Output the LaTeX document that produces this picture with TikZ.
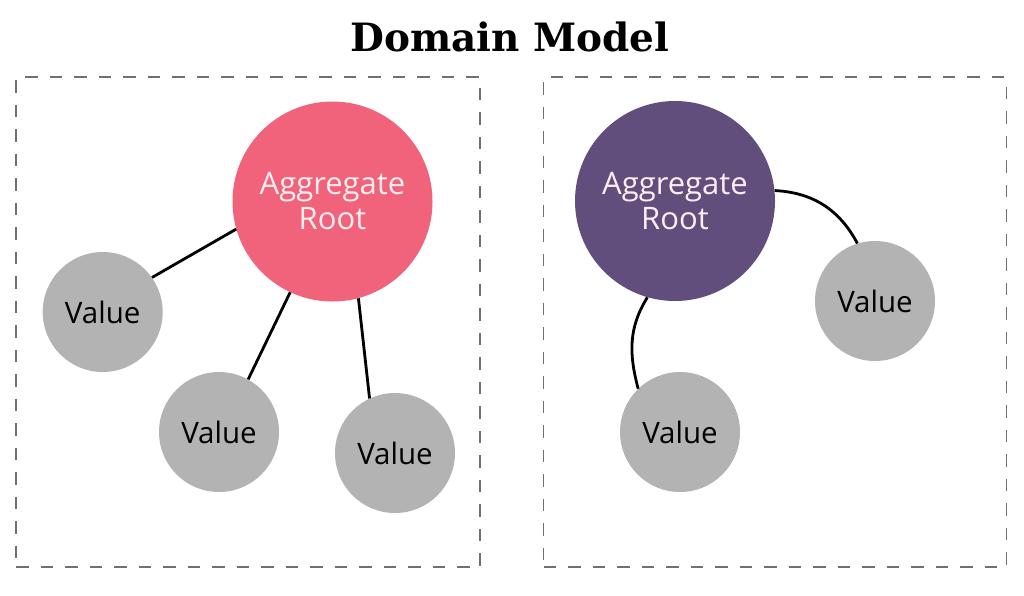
\documentclass[tikz,border=0pt]{standalone}
\usepackage{fontspec}
\setmainfont{Open Sans}
\newfontfamily\titlefont{DejaVu Serif}
\definecolor{rootpink}{HTML}{F0637A}
\definecolor{rootpurple}{HTML}{614E7D}
\definecolor{valgray}{HTML}{B3B3B3}
\definecolor{boxgray}{HTML}{707070}
\definecolor{roottext}{HTML}{FCEEF0}
\begin{document}
\begin{tikzpicture}[x=1pt,y=-1pt,
  frame/.style={draw=boxgray,line width=1.2pt,dash pattern=on 12.5pt off 12pt},
  rootnode/.style={circle,minimum size=200pt,inner sep=0pt,text=roottext,align=center,
    font=\fontsize{31}{35}\selectfont},
  valnode/.style={circle,fill=valgray,minimum size=120pt,inner sep=0pt,
    font=\fontsize{29.5}{34}\selectfont},
  link/.style={draw=black,line width=2.8pt}]
\useasboundingbox (0,0) rectangle (1024,595);
\node[font=\titlefont\bfseries\fontsize{39}{46}\selectfont] (title) at (510,37) {Domain Model};
\node[frame,minimum width=464pt,minimum height=490pt,inner sep=0pt] (boxL) at (248,322) {};
\node[frame,minimum width=463pt,minimum height=490pt,inner sep=0pt] (boxR) at (775,322) {};
% left
\node[rootnode,fill=rootpink] (rootL) at (332.5,201.5) {Aggregate\\Root};
\node[valnode] (v1) at (102.7,312) {Value};
\node[valnode] (v2) at (219,432) {Value};
\node[valnode] (v3) at (395,453) {Value};
\draw[link] (rootL.196) -- (v1.35);
\draw[link] (rootL.245) -- (v2.61);
\draw[link] (rootL.285.6) -- (v3.115.6);
% right
\node[rootnode,fill=rootpurple] (rootR) at (675,201) {Aggregate\\Root};
\node[valnode] (v4) at (875,301) {Value};
\node[valnode] (v5) at (680,432) {Value};
\draw[link] (rootR.6) to[out=-3,in=118] (v4.107);
\draw[link] (rootR.254) to[out=238,in=105] (v5.134);
\end{tikzpicture}
\end{document}
